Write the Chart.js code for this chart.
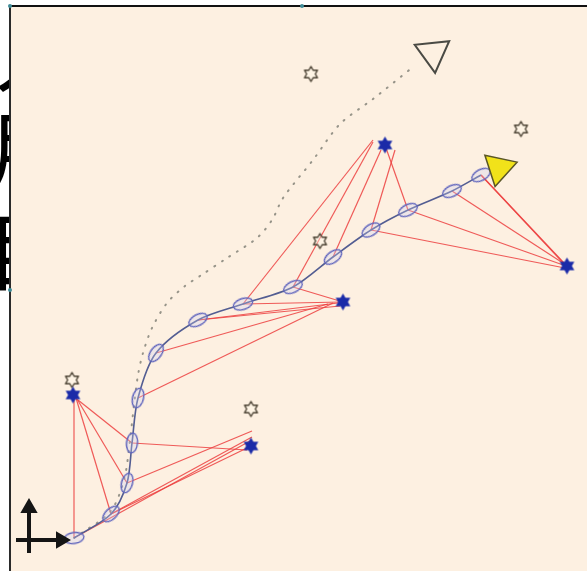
<!DOCTYPE html>
<html>
<head>
<meta charset="utf-8">
<script src="https://cdn.jsdelivr.net/npm/chart.js@4/dist/chart.umd.min.js"></script>
<style>
  html, body { margin: 0; padding: 0; background: #fff; width: 587px; height: 571px; overflow: hidden; }
  #side { position: absolute; left: 0; top: 0; width: 10px; height: 571px; overflow: hidden;
          font-family: "Noto Sans CJK SC", sans-serif; color: #000; }
  #side span { position: absolute; font-size: 86px; line-height: 1; }
  #frame { position: absolute; left: 9px; top: 5px; width: 578px; height: 566px; box-sizing: border-box;
           border-top: 2px solid #111; border-left: 2px solid #2a2a2a; background: #fdf0e1; }
  #frame canvas { position: absolute; left: 0; top: 0; }
  .handle { position: absolute; width: 4px; height: 4px; border-radius: 2px; background: #3f8c98; }
</style>
</head>
<body>
<div id="side"><span style="top:6px;left:-6px">人</span><span style="top:102px;left:-12px">用</span><span style="top:204px;left:-14px">目</span></div>
<div id="frame"><canvas id="map" width="576" height="564"></canvas></div>
<div class="handle" style="left:8px;top:4px"></div>
<div class="handle" style="left:300px;top:4px"></div>
<div class="handle" style="left:8px;top:288px"></div>
<script>
// Estimated robot poses along the trajectory (x, y) and heading of each uncertainty ellipse (deg)
const poseX = [45, 82, 98, 103, 109, 127, 169, 214, 264, 304, 342, 379, 423, 452];
const poseY = [2, 26, 57, 97, 142, 187, 220, 236, 253, 283, 310, 330, 349, 365];
const poseHeading = [-8, -42, -74, -84, -76, -54, -28, -18, -26, -36, -33, -26, -25, -28];

// Landmarks: observed (filled) and mapped (outline)
const landmarkX = [44, 222, 314, 356, 538];
const landmarkY = [145, 94, 238, 395, 274];
const mappedX = [43, 222, 291, 282, 492];
const mappedY = [160, 131, 299, 466, 411];

// Reference (dotted) trajectory
const truthX = [45, 81, 95, 101, 105, 109, 114, 123, 138, 156, 171, 198, 228, 243, 254, 284, 311, 344, 384];
const truthY = [2, 28, 60, 100, 135, 165, 187, 212, 237, 254, 264, 282, 302, 320, 342, 380, 416, 441, 473];

// Observations: pose index -> measured landmark position
const obsPose = [0, 1, 2, 3,
                 0, 1, 1, 2, 3,
                 4, 5, 6, 6, 7, 8,
                 7, 8, 9, 10, 11,
                 10, 11, 12, 13, 13];
const obsX = [45, 47, 48, 49,
              221, 223, 218, 223, 218,
              304, 299, 309, 311, 313, 314,
              344, 344, 352, 366, 357,
              536, 537, 537, 535, 539];
const obsY = [143, 142, 141, 140,
              99, 103, 92, 109, 90,
              237, 236, 237, 234, 238, 238,
              400, 398, 390, 390, 392,
              272, 274, 275, 277, 272];

// Robot markers: reference end pose (outline) and estimated pose (yellow)
const markerX = [404, 470];
const markerY = [487, 372];
const markerHeading = [174, 192];

// Coordinate-frame arrows at the origin
const frameUpX = [0, 0], frameUpY = [-13, 32];
const frameRightX = [-13, 32], frameRightY = [0, 0];

const pts = (xs, ys) => xs.map((x, i) => ({ x, y: ys[i] }));

function hexagram(R, fill, stroke, lw) {
  const s = Math.ceil(2 * R + 4);
  const c = document.createElement('canvas');
  c.width = c.height = s;
  const g = c.getContext('2d');
  g.translate(s / 2, s / 2);
  g.beginPath();
  for (let i = 0; i < 12; i++) {
    const r = i % 2 === 0 ? R : R / Math.sqrt(3);
    const a = -Math.PI / 2 + i * Math.PI / 6;
    const px = r * Math.cos(a), py = r * Math.sin(a);
    if (i === 0) g.moveTo(px, py); else g.lineTo(px, py);
  }
  g.closePath();
  if (fill) { g.fillStyle = fill; g.fill(); }
  if (stroke) { g.strokeStyle = stroke; g.lineWidth = lw; g.lineJoin = 'round'; g.stroke(); }
  return c;
}

function ellipseImg(rx, ry) {
  const w = Math.ceil(2 * rx + 4), h = Math.ceil(2 * ry + 4);
  const c = document.createElement('canvas');
  c.width = w; c.height = h;
  const g = c.getContext('2d');
  g.beginPath();
  g.ellipse(w / 2, h / 2, rx, ry, 0, 0, Math.PI * 2);
  g.fillStyle = 'rgba(205,208,245,0.3)';
  g.fill();
  g.strokeStyle = '#5f64bd';
  g.lineWidth = 1.3;
  g.stroke();
  return c;
}

const starFilled = hexagram(8.5, '#1b2ba8', null, 0);
const starHollow = hexagram(7.5, 'rgba(255,250,235,0.4)', '#4b4233', 1.4);
const ellipse = ellipseImg(10, 5.5);

const datasets = [];

// observation rays
obsPose.forEach((p, k) => {
  datasets.push({
    data: [{ x: poseX[p], y: poseY[p] }, { x: obsX[k], y: obsY[k] }],
    showLine: true, borderColor: 'rgba(236,64,64,0.85)', borderWidth: 1.2,
    pointRadius: 0, order: 6
  });
});

datasets.push({
  data: pts(truthX, truthY), showLine: true, borderColor: 'rgba(125,125,115,0.8)',
  borderWidth: 2, borderDash: [1, 8], borderCapStyle: 'round', tension: 0.3,
  pointRadius: 0, order: 5
});

datasets.push({
  data: pts(poseX, poseY), showLine: true, borderColor: '#535d92', borderWidth: 1.6,
  tension: 0.3, pointRadius: 0, order: 4
});

datasets.push({
  data: pts(poseX, poseY), showLine: false, pointStyle: ellipse, pointRotation: poseHeading,
  pointRadius: 10, order: 3
});

datasets.push({
  data: pts(mappedX, mappedY), showLine: false, pointStyle: starHollow, pointRadius: 8, order: 2
});
datasets.push({
  data: pts(landmarkX, landmarkY), showLine: false, pointStyle: starFilled, pointRadius: 8, order: 1
});

datasets.push({
  data: [{ x: markerX[0], y: markerY[0] }], showLine: false, pointStyle: 'triangle',
  pointRadius: 20, pointRotation: markerHeading[0], pointBackgroundColor: 'rgba(0,0,0,0)',
  pointBorderColor: '#4a4a44', pointBorderWidth: 2, order: 1
});
datasets.push({
  data: [{ x: markerX[1], y: markerY[1] }], showLine: false, pointStyle: 'triangle',
  pointRadius: 19, pointRotation: markerHeading[1], pointBackgroundColor: '#f1e21a',
  pointBorderColor: '#5a5626', pointBorderWidth: 1.5, order: 0
});

// coordinate frame
datasets.push({
  data: pts(frameUpX, frameUpY), showLine: true, borderColor: '#151515', borderWidth: 4,
  pointStyle: 'triangle', pointRadius: [0, 6], pointRotation: [0, 0],
  pointBackgroundColor: '#151515', pointBorderColor: '#151515', order: 0
});
datasets.push({
  data: pts(frameRightX, frameRightY), showLine: true, borderColor: '#151515', borderWidth: 4,
  pointStyle: 'triangle', pointRadius: [0, 6], pointRotation: [0, 90],
  pointBackgroundColor: '#151515', pointBorderColor: '#151515', order: 0
});

new Chart(document.getElementById('map'), {
  type: 'scatter',
  data: { datasets },
  options: {
    responsive: false,
    animation: false,
    layout: { padding: 0, autoPadding: false },
    plugins: { legend: { display: false }, tooltip: { enabled: false } },
    scales: {
      x: { type: 'linear', min: -18, max: 558, display: false },
      y: { type: 'linear', min: -31, max: 533, display: false }
    }
  }
});
</script>
</body>
</html>
